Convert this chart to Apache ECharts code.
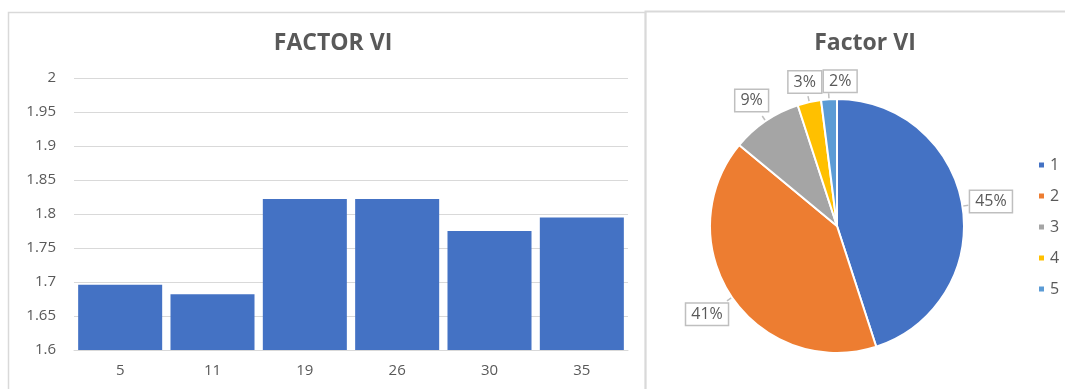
<!DOCTYPE html>
<html>
<head>
<meta charset="utf-8">
<script src="https://cdn.jsdelivr.net/npm/echarts@6/dist/echarts.min.js"></script>
<style>
  html, body { margin: 0; padding: 0; background: #ffffff; }
  #chart { width: 1065px; height: 389px; }
</style>
</head>
<body>
<div id="chart"></div>
<script>
// Factor VI: mean value per group (bars) and share of responses per level (pie)
const groups = ['5', '11', '19', '26', '30', '35'];
const groupValues = [1.696, 1.682, 1.822, 1.822, 1.775, 1.795];
const yTicks = { min: 1.6, max: 2, step: 0.05 };

const levels = ['1', '2', '3', '4', '5'];
const levelShares = [45, 41, 9, 3, 2];
const levelColors = ['#4472C4', '#ED7D31', '#A5A5A5', '#FFC000', '#5B9BD5'];

const FONT = '"Open Sans", "Liberation Sans", sans-serif';
const TEXT = '#595959';

const chart = echarts.init(document.getElementById('chart'), null, { renderer: 'canvas' });

// Place each percentage box just outside its slice, along the slice's mid direction
function calloutLayout(params) {
  const pts = params.labelLinePoints;
  if (!pts) return {};
  const p0 = pts[0], p1 = pts[1];
  const dx = p1[0] - p0[0], dy = p1[1] - p0[1];
  const len = Math.hypot(dx, dy) || 1;
  const ux = dx / len, uy = dy / len;
  const w = params.labelRect.width, h = params.labelRect.height;
  // distance from slice edge to box centre, so the box just clears the edge
  const gap = 5 + Math.abs(ux) * w / 2 + Math.abs(uy) * h / 2;
  const cx = p0[0] + ux * gap, cy = p0[1] + uy * gap;
  const tip = [p0[0] + ux * 6, p0[1] + uy * 6];
  return {
    x: cx, y: cy, align: 'center', verticalAlign: 'middle',
    moveOverlap: 'shiftX',
    labelLinePoints: [p0, tip, tip]
  };
}

chart.setOption({
  animation: false,
  textStyle: { fontFamily: FONT },
  graphic: [
    { type: 'rect', shape: { x: 8.5, y: 12.5, width: 637, height: 390 },
      style: { fill: 'none', stroke: '#d9d9d9', lineWidth: 1.5 }, z: -1 },
    { type: 'rect', shape: { x: 645.5, y: 11.5, width: 430, height: 390 },
      style: { fill: 'none', stroke: '#d9d9d9', lineWidth: 2 }, z: -1 }
  ],
  title: [
    { text: 'FACTOR VI', left: 328, top: 27, textAlign: 'center',
      textStyle: { fontFamily: FONT, fontSize: 23, fontWeight: 'bold', color: TEXT } },
    { text: 'Factor VI', left: 860, top: 27, textAlign: 'center',
      textStyle: { fontFamily: FONT, fontSize: 23, fontWeight: 'bold', color: TEXT } }
  ],
  grid: { left: 74, top: 78, width: 554, height: 272, containLabel: false },
  xAxis: {
    type: 'category',
    data: groups,
    axisLine: { show: true, lineStyle: { color: '#d9d9d9', width: 1 } },
    axisTick: { show: false },
    axisLabel: { color: TEXT, fontSize: 15, margin: 13, fontFamily: FONT }
  },
  yAxis: {
    type: 'value',
    min: yTicks.min, max: yTicks.max, interval: yTicks.step,
    axisLine: { show: false },
    axisTick: { show: false },
    axisLabel: { color: TEXT, fontSize: 15, margin: 18, fontFamily: FONT,
      formatter: v => String(parseFloat(v.toFixed(2))) },
    splitLine: { lineStyle: { color: '#d9d9d9', width: 1 } }
  },
  legend: {
    orient: 'vertical',
    left: 1032, top: 150,
    itemWidth: 7, itemHeight: 7, itemGap: 11,
    icon: 'rect',
    textStyle: { color: TEXT, fontSize: 16, fontFamily: FONT, lineHeight: 20 },
    data: levels
  },
  series: [
    {
      type: 'bar',
      data: groupValues,
      barCategoryGap: '9%',
      itemStyle: { color: '#4472C4' }
    },
    {
      type: 'pie',
      center: [837, 226],
      radius: 127,
      startAngle: 90,
      clockwise: true,
      avoidLabelOverlap: false,
      data: levels.map((name, i) => ({ name, value: levelShares[i], itemStyle: { color: levelColors[i] } })),
      itemStyle: { borderColor: '#ffffff', borderWidth: 2 },
      label: {
        show: true,
        position: 'outside',
        formatter: '{d}%',
        color: TEXT, fontSize: 16, fontFamily: FONT,
        backgroundColor: '#ffffff',
        borderColor: '#bfbfbf', borderWidth: 1.5,
        padding: [3, 5, 2, 5]
      },
      labelLine: { show: true, length: 10, length2: 0, lineStyle: { color: '#bfbfbf', width: 1.5 } },
      labelLayout: calloutLayout,
      emphasis: { disabled: true }
    }
  ]
});
</script>
</body>
</html>
